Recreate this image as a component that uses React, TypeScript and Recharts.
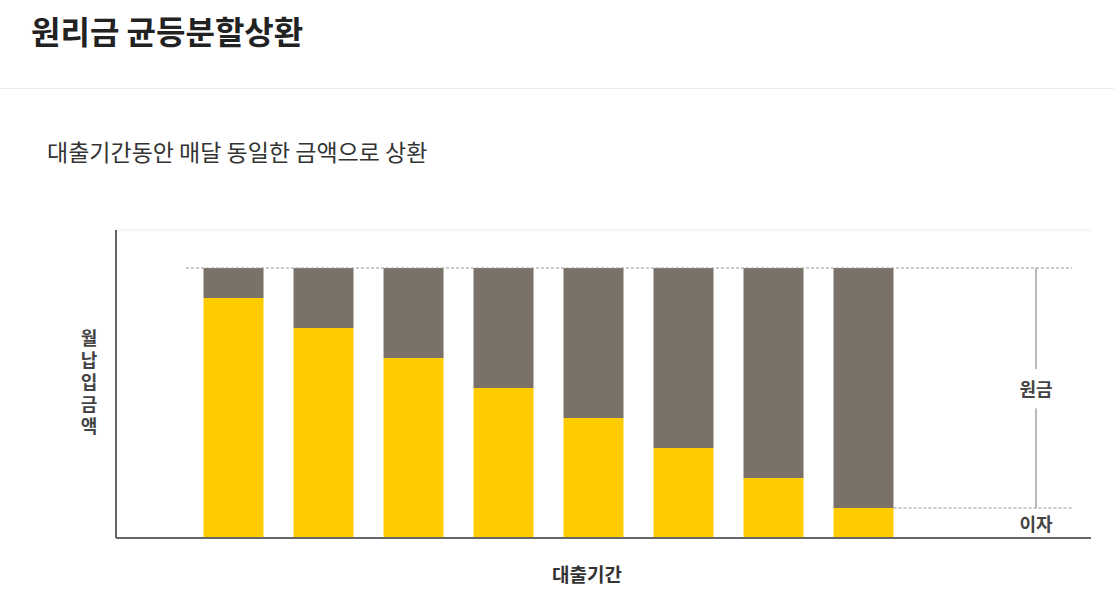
import React from 'react';
import {
  ComposedChart,
  Bar,
  XAxis,
  YAxis,
  CartesianGrid,
  ReferenceLine,
  ReferenceDot,
} from 'recharts';

// ---- data ----
const periods = [1, 2, 3, 4, 5, 6, 7, 8];
const interestValues = [8, 7, 6, 5, 4, 3, 2, 1];
const principalValues = [1, 2, 3, 4, 5, 6, 7, 8];
const TOTAL = 9;
const LAST_INTEREST = 1;
const Y_MAX = 10.267;
const yTicks = [0, Y_MAX / 4, Y_MAX / 2, (Y_MAX * 3) / 4, Y_MAX];
const X_DOMAIN: [number, number] = [-0.306, 10.528];

const TITLE = '원리금 균등분할상환';
const SUBTITLE = '대출기간동안 매달 동일한 금액으로 상환';
const X_LABEL = '대출기간';
const Y_LABEL = '월납입금액';
const PRINCIPAL_LABEL = '원금';
const INTEREST_LABEL = '이자';

const data = periods.map((p, i) => ({
  period: p,
  interest: interestValues[i],
  principal: principalValues[i],
}));

const FONT = '"Noto Sans CJK KR", "Noto Sans", sans-serif';
const YELLOW = '#ffcc00';
const GRAY = '#7a7268';
const MARKER_X = 9.917;

const textShape = (label: string) => (p: any) => (
  <text
    x={p.cx}
    y={p.cy}
    textAnchor="middle"
    dominantBaseline="central"
    fontFamily={FONT}
    fontWeight={700}
    fontSize={18}
    fill="#444"
  >
    {label}
  </text>
);

export default function App() {
  return (
    <div
      style={{
        position: 'absolute',
        left: 0,
        top: 0,
        width: 1114,
        height: 601,
        background: '#fff',
        fontFamily: FONT,
        overflow: 'hidden',
      }}
    >
      <div
        style={{
          position: 'absolute',
          left: 31,
          top: 8,
          fontSize: 32,
          fontWeight: 700,
          color: '#222',
          lineHeight: '44px',
          whiteSpace: 'nowrap',
        }}
      >
        {TITLE}
      </div>
      <div
        style={{
          position: 'absolute',
          left: 0,
          top: 88,
          width: 1114,
          height: 1,
          background: '#ececec',
        }}
      />
      <div
        style={{
          position: 'absolute',
          left: 47,
          top: 135,
          fontSize: 23,
          fontWeight: 400,
          color: '#333',
          lineHeight: '32px',
          whiteSpace: 'nowrap',
        }}
      >
        {SUBTITLE}
      </div>
      <div
        style={{
          position: 'absolute',
          left: 76,
          top: 329,
          width: 26,
          fontSize: 18,
          fontWeight: 700,
          color: '#444',
          lineHeight: '26px',
          writingMode: 'vertical-rl',
          textOrientation: 'upright',
          letterSpacing: '4px',
          whiteSpace: 'nowrap',
        }}
      >
        {Y_LABEL}
      </div>
      <div
        style={{
          position: 'absolute',
          left: 487,
          width: 200,
          top: 560,
          fontSize: 19,
          fontWeight: 700,
          color: '#333',
          lineHeight: '28px',
          textAlign: 'center',
        }}
      >
        {X_LABEL}
      </div>
      <div style={{ position: 'absolute', left: 0, top: 0 }}>
        <ComposedChart
          width={1114}
          height={601}
          data={data}
          margin={{ top: 230, right: 23, bottom: 62, left: 115 }}
        >
          <CartesianGrid vertical={false} stroke="#ececec" />
          <XAxis
            dataKey="period"
            type="number"
            domain={X_DOMAIN}
            allowDataOverflow
            ticks={periods}
            tick={false}
            tickLine={false}
            height={1}
            axisLine={{ stroke: '#666', strokeWidth: 2 }}
          />
          <YAxis
            type="number"
            domain={[0, Y_MAX]}
            ticks={yTicks}
            tick={false}
            tickLine={false}
            width={1}
            axisLine={{ stroke: '#666', strokeWidth: 2 }}
          />
          <ReferenceLine
            segment={[
              { x: 0.472, y: TOTAL },
              { x: 10.317, y: TOTAL },
            ]}
            stroke="#999"
            strokeDasharray="3 2"
            ifOverflow="visible"
          />
          <ReferenceLine
            segment={[
              { x: 8.333, y: LAST_INTEREST },
              { x: 10.317, y: LAST_INTEREST },
            ]}
            stroke="#999"
            strokeDasharray="3 2"
            ifOverflow="visible"
          />
          <ReferenceLine
            segment={[
              { x: MARKER_X, y: TOTAL },
              { x: MARKER_X, y: 5.63 },
            ]}
            stroke="#777"
            ifOverflow="visible"
          />
          <ReferenceLine
            segment={[
              { x: MARKER_X, y: 4.32 },
              { x: MARKER_X, y: LAST_INTEREST },
            ]}
            stroke="#777"
            ifOverflow="visible"
          />
          <Bar
            dataKey="interest"
            stackId="a"
            fill={YELLOW}
            barSize={60}
            isAnimationActive={false}
          />
          <Bar
            dataKey="principal"
            stackId="a"
            fill={GRAY}
            barSize={60}
            isAnimationActive={false}
          />
          <ReferenceDot
            x={MARKER_X}
            y={5.0}
            r={0}
            ifOverflow="visible"
            shape={textShape(PRINCIPAL_LABEL)}
          />
          <ReferenceDot
            x={MARKER_X}
            y={0.5}
            r={0}
            ifOverflow="visible"
            shape={textShape(INTEREST_LABEL)}
          />
        </ComposedChart>
      </div>
    </div>
  );
}
